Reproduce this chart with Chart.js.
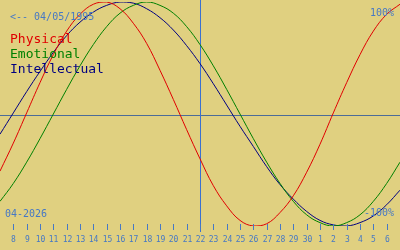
<!DOCTYPE html>
<html>
<head>
<meta charset="utf-8">
<script src="https://cdn.jsdelivr.net/npm/chart.js@4/dist/chart.umd.min.js"></script>
<style>
html,body{margin:0;padding:0;background:#e0d080;}
#wrap{width:400px;height:250px;}
</style>
</head>
<body>
<div id="wrap"><canvas id="c" width="400" height="250"></canvas></div>
<script>
// Day offsets 0..30 (0 = 7 April 2026)
const dayOffsets = [0,1,2,3,4,5,6,7,8,9,10,11,12,13,14,15,16,17,18,19,20,21,22,23,24,25,26,27,28,29,30];
const physical = [-51,-26,1,28,53,74,89,98,100,94,81,63,39,13,-14,-40,-64,-82,-95,-100,-98,-88,-73,-52,-27,1,28,53,74,89,98];
const emotional = [-78,-62,-43,-22,0,22,43,62,78,90,97,100,97,90,78,62,43,22,0,-22,-43,-62,-78,-90,-97,-100,-97,-90,-78,-62,-43];
const intellectual = [-18,1,20,38,55,70,82,91,97,100,99,94,86,75,61,45,27,8,-11,-29,-47,-63,-76,-87,-95,-99,-100,-97,-91,-81,-68];
// Tick labels at offsets 1..29
const tickOffsets = [1,2,3,4,5,6,7,8,9,10,11,12,13,14,15,16,17,18,19,20,21,22,23,24,25,26,27,28,29];
const tickLabels = ['8','9','10','11','12','13','14','15','16','17','18','19','20','21','22','23','24','25','26','27','28','29','30','1','2','3','4','5','6'];
const todayOffset = 15;      // 22
const midLineValue = -1.3;   // horizontal reference line
const legendNames = ['Physical','Emotional','Intellectual'];
const birthText = '<-- 04/05/1995';
const monthText = '04-2026';
const topText = '100%';
const bottomText = '-100%';

const colors = {bg:'#e0d080', red:'#e00000', green:'#008000', blue:'#000080', text:'#4678c4', vline:'#3a70d0', hline:'#4c6c98'};

function pts(arr){ return dayOffsets.map((d,i)=>({x:d,y:arr[i]})); }

const overlay = {
  id:'overlay',
  beforeDraw(chart){
    const ctx = chart.ctx;
    ctx.save();
    ctx.fillStyle = colors.bg;
    ctx.fillRect(0,0,chart.width,chart.height);
    ctx.restore();
  },
  beforeDatasetsDraw(chart){
    const ctx = chart.ctx, xs = chart.scales.x, ys = chart.scales.y;
    ctx.save();
    ctx.lineWidth = 1;
    // horizontal line
    const hy = Math.round(ys.getPixelForValue(midLineValue)) + 0.5;
    ctx.strokeStyle = colors.hline;
    ctx.beginPath(); ctx.moveTo(0,hy); ctx.lineTo(chart.width,hy); ctx.stroke();
    // vertical today line
    const vx = Math.round(xs.getPixelForValue(todayOffset)) + 0.5;
    ctx.strokeStyle = colors.vline;
    ctx.beginPath(); ctx.moveTo(vx,0); ctx.lineTo(vx,232); ctx.stroke();
    ctx.restore();
  },
  afterDraw(chart){
    const ctx = chart.ctx, xs = chart.scales.x;
    ctx.save();
    // ticks
    ctx.strokeStyle = colors.text;
    ctx.lineWidth = 1;
    ctx.fillStyle = colors.text;
    ctx.font = '8px "DejaVu Sans Mono"';
    ctx.textAlign = 'center';
    ctx.textBaseline = 'alphabetic';
    tickOffsets.forEach((t,i)=>{
      const x = Math.round(xs.getPixelForValue(t)) + 0.5;
      ctx.beginPath(); ctx.moveTo(x,224); ctx.lineTo(x,230); ctx.stroke();
      ctx.fillText(tickLabels[i], x, 241.5);
    });
    // small texts
    ctx.font = '10px "DejaVu Sans Mono"';
    ctx.textAlign = 'left';
    ctx.fillText(birthText, 10, 20);
    ctx.fillText(monthText, 5, 217);
    ctx.textAlign = 'right';
    ctx.fillText(topText, 394, 16);
    ctx.fillText(bottomText, 394, 216);
    // legend
    ctx.textAlign = 'left';
    ctx.font = '13px "DejaVu Sans Mono"';
    const lc = [colors.red, colors.green, colors.blue];
    legendNames.forEach((n,i)=>{ ctx.fillStyle = lc[i]; ctx.fillText(n, 10, 43 + 15*i); });
    ctx.restore();
  }
};

new Chart(document.getElementById('c'), {
  type:'line',
  data:{
    datasets:[
      {label:legendNames[0], data:pts(physical), borderColor:colors.red, borderWidth:1, pointRadius:0, tension:0.4, fill:false},
      {label:legendNames[1], data:pts(emotional), borderColor:colors.green, borderWidth:1, pointRadius:0, tension:0.4, fill:false},
      {label:legendNames[2], data:pts(intellectual), borderColor:colors.blue, borderWidth:1, pointRadius:0, tension:0.4, fill:false}
    ]
  },
  options:{
    responsive:false,
    animation:false,
    layout:{padding:{top:2,bottom:24,left:0,right:0}},
    scales:{
      x:{type:'linear', min:0, max:30, display:false},
      y:{min:-100, max:100, display:false}
    },
    plugins:{legend:{display:false}, tooltip:{enabled:false}}
  },
  plugins:[overlay]
});
</script>
</body>
</html>
